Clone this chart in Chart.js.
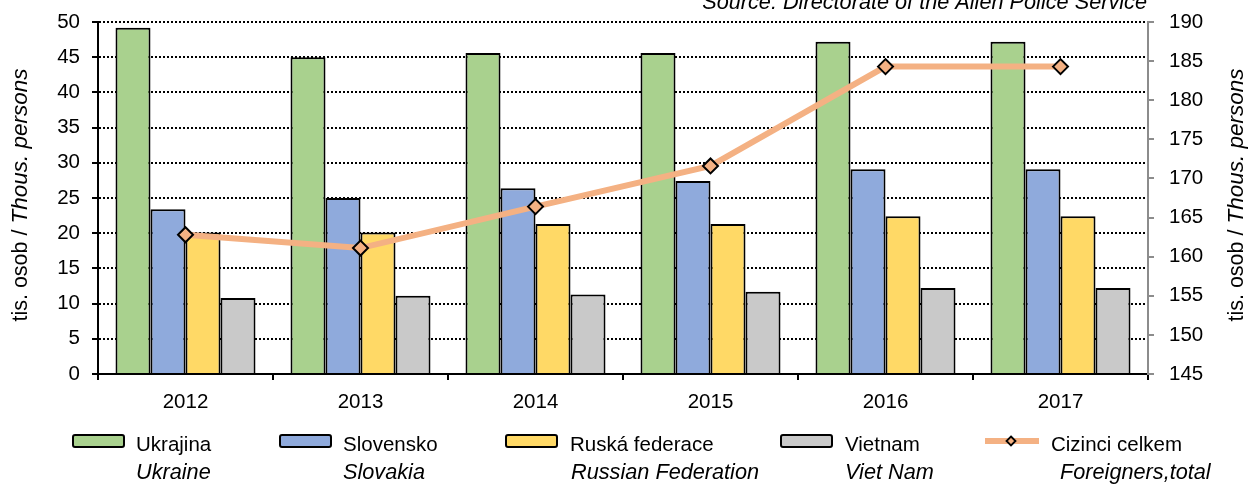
<!DOCTYPE html>
<html>
<head>
<meta charset="utf-8">
<script src="https://cdn.jsdelivr.net/npm/chart.js@4.4.0/dist/chart.umd.min.js"></script>
<style>
  body { margin: 0; background: #fff; }
  #wrap { width: 1248px; height: 484px; position: relative; }
</style>
</head>
<body>
<div id="wrap"><canvas id="myChart"></canvas></div>
<script>
const roky = ['2012', '2013', '2014', '2015', '2016', '2017'];
const ukrajina = [49.2, 45.0, 45.6, 45.6, 47.2, 47.2];
const slovensko = [23.4, 25.0, 26.4, 27.4, 29.1, 29.1];
const rusko = [20.1, 20.1, 21.3, 21.3, 22.4, 22.4];
const vietnam = [10.8, 11.1, 11.3, 11.7, 12.2, 12.2];
const celkem = [162.8, 161.1, 166.4, 171.6, 184.3, 184.3];

const nazvyCz = ['Ukrajina', 'Slovensko', 'Ruská federace', 'Vietnam', 'Cizinci celkem'];
const nazvyEn = ['Ukraine', 'Slovakia', 'Russian Federation', 'Viet Nam', 'Foreigners,total'];
const barvy = ['#A9D18E', '#8FAADC', '#FFD966', '#C9C9C9', '#F4B183'];

const pismo = "'Liberation Sans', Arial, sans-serif";
const velikost = 20.5;
const velikostIt = 21.7;
Chart.defaults.font.family = pismo;
Chart.defaults.font.size = velikost;
Chart.defaults.color = '#000';

// titulky os, zdroj a legenda kreslene rucne (smisene rezy pisma)
function textMix(ctx, casti, cx, cy) {
  let sirka = 0;
  casti.forEach(c => { ctx.font = c[1]; sirka += ctx.measureText(c[0]).width; });
  let x = cx - sirka / 2;
  casti.forEach(c => {
    ctx.font = c[1];
    ctx.fillText(c[0], x, cy);
    x += ctx.measureText(c[0]).width;
  });
}

const popisky = {
  id: 'popisky',
  afterDraw(chart) {
    const ctx = chart.ctx;
    const ca = chart.chartArea;
    ctx.save();
    ctx.fillStyle = '#000';
    ctx.textBaseline = 'alphabetic';
    ctx.textAlign = 'left';

    const titul = [['tis. osob / ', '21.5px ' + pismo], ['Thous. persons', 'italic 22.5px ' + pismo]];
    [27, 1243].forEach(x => {
      ctx.save();
      ctx.translate(x, 195);
      ctx.rotate(-Math.PI / 2);
      textMix(ctx, titul, 0, 0);
      ctx.restore();
    });

    ctx.font = 'italic ' + velikostIt + 'px ' + pismo;
    ctx.textAlign = 'right';
    ctx.fillText('Source: Directorate of the Alien Police Service', ca.right - 1, 9);

    // legenda
    ctx.textAlign = 'left';
    const boxX = [73, 280, 506, 781];
    const textX = [136, 343, 570, 845, 1051];
    const textX2 = [136, 343, 571, 845, 1060];
    const yb = 441, y1 = 451, y2 = 479;
    for (let i = 0; i < 4; i++) {
      ctx.beginPath();
      ctx.roundRect(boxX[i], yb - 6, 51, 12, 2);
      ctx.fillStyle = barvy[i];
      ctx.fill();
      ctx.lineWidth = 2;
      ctx.strokeStyle = '#000';
      ctx.stroke();
    }
    ctx.beginPath();
    ctx.moveTo(985, yb);
    ctx.lineTo(1039, yb);
    ctx.lineWidth = 6;
    ctx.strokeStyle = barvy[4];
    ctx.stroke();
    ctx.beginPath();
    ctx.moveTo(1011, yb - 4.5);
    ctx.lineTo(1015.5, yb);
    ctx.lineTo(1011, yb + 4.5);
    ctx.lineTo(1006.5, yb);
    ctx.closePath();
    ctx.fillStyle = barvy[4];
    ctx.fill();
    ctx.lineWidth = 1.8;
    ctx.strokeStyle = '#000';
    ctx.stroke();

    ctx.fillStyle = '#000';
    for (let i = 0; i < 5; i++) {
      ctx.font = velikost + 'px ' + pismo;
      ctx.fillText(nazvyCz[i], textX[i], y1);
      ctx.font = 'italic ' + velikostIt + 'px ' + pismo;
      ctx.fillText(nazvyEn[i], textX2[i], y2);
    }
    ctx.restore();
  }
};

function sloupce(label, data, barva) {
  return {
    type: 'bar', label: label, data: data, yAxisID: 'y',
    backgroundColor: barva, borderColor: '#000', borderWidth: 2,
    categoryPercentage: 0.8, barPercentage: 1.0, order: 1
  };
}

const ctx = document.getElementById('myChart').getContext('2d');
const chart = new Chart(ctx, {
  data: {
    labels: roky,
    datasets: [
      sloupce(nazvyCz[0], ukrajina, barvy[0]),
      sloupce(nazvyCz[1], slovensko, barvy[1]),
      sloupce(nazvyCz[2], rusko, barvy[2]),
      sloupce(nazvyCz[3], vietnam, barvy[3]),
      {
        type: 'line', label: nazvyCz[4], data: celkem, yAxisID: 'y1',
        borderColor: barvy[4], borderWidth: 6, tension: 0,
        pointStyle: 'rectRot', pointRadius: 7.5,
        pointBackgroundColor: barvy[4], pointBorderColor: '#000', pointBorderWidth: 2,
        order: 0
      }
    ]
  },
  options: {
    responsive: true,
    maintainAspectRatio: false,
    animation: false,
    layout: { padding: { top: 22, left: 0, right: 0, bottom: 0 } },
    plugins: { legend: { display: false }, tooltip: { enabled: false } },
    scales: {
      x: {
        grid: { drawOnChartArea: false, drawTicks: true, tickLength: 6, color: '#000', lineWidth: 2, offset: true },
        border: { color: '#000', width: 2 },
        ticks: { padding: 10 },
        afterFit: s => { s.height = 110; }
      },
      y: {
        position: 'left', min: 0, max: 50,
        ticks: { stepSize: 5, padding: 12 },
        grid: { color: '#000', lineWidth: 2, tickLength: 6, tickColor: '#000', tickWidth: 2 },
        border: { color: '#000', width: 2, dash: [2, 2] },
        afterFit: s => { s.width = 98; s.paddingTop = 0; s.paddingBottom = 0; }
      },
      y1: {
        position: 'right', min: 145, max: 190,
        ticks: { stepSize: 5, padding: 15 },
        grid: { drawOnChartArea: false, tickLength: 6, color: '#8c8c8c', lineWidth: 2 },
        border: { color: '#8c8c8c', width: 2 },
        afterFit: s => { s.width = 100; s.paddingTop = 0; s.paddingBottom = 0; }
      }
    }
  },
  plugins: [popisky]
});
</script>
</body>
</html>
